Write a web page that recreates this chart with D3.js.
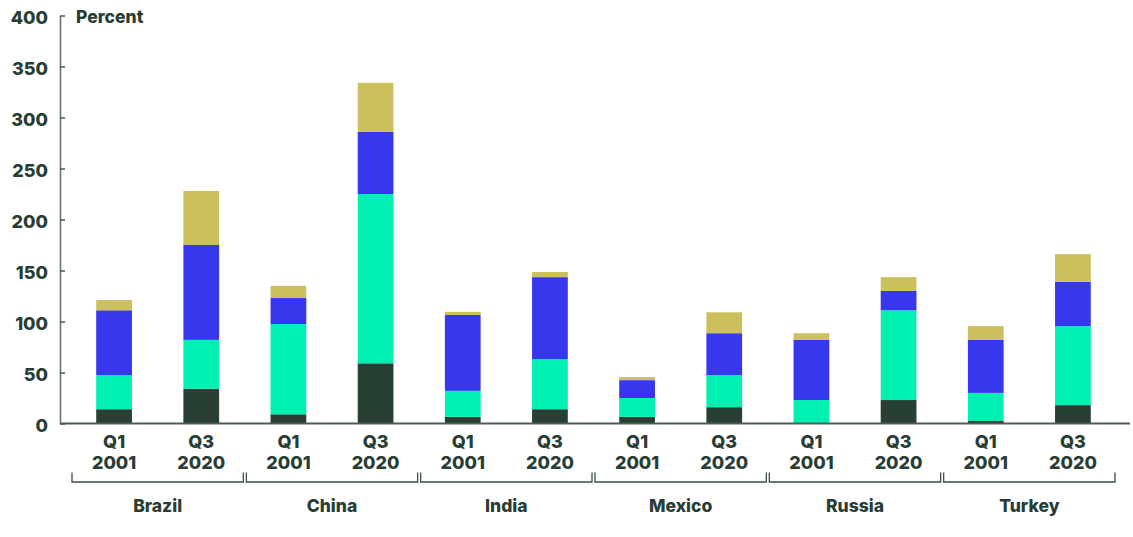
<!DOCTYPE html>
<html>
<head>
<meta charset="utf-8">
<script src="https://cdn.jsdelivr.net/npm/d3@7"></script>
<style>
  html, body { margin: 0; padding: 0; background: #ffffff; }
  svg { display: block; }
  text { font-family: Inter, "Liberation Sans", sans-serif; font-weight: 800; fill: #283d33; }
</style>
</head>
<body>
<div id="chart"></div>
<script>
// Debt by sector, percent of GDP, two snapshots per economy
const countries = ["Brazil", "China", "India", "Mexico", "Russia", "Turkey"];
const periods = [["Q1", "2001"], ["Q3", "2020"]];

// One value per bar, ordered Brazil Q1, Brazil Q3, China Q1, ...
const households  = [14, 34, 9, 59, 6.5, 14, 6.5, 16, 0, 23, 2.5, 18];
const corporates  = [33.5, 48, 88.5, 166, 25.5, 49, 18.5, 31.5, 23, 88, 27.5, 77.5];
const government  = [63.5, 93, 25.5, 61, 74.5, 80.5, 17.5, 41, 59, 19, 52, 43.5];
const financial   = [10, 53, 12, 48, 3, 5, 3, 20.5, 6.5, 13.5, 13.5, 27];

const yTicks = [0, 50, 100, 150, 200, 250, 300, 350, 400];
const yLabel = "Percent";

const seriesKeys = ["households", "corporates", "government", "financial"];
const seriesColors = ["#283f33", "#00f0b2", "#3737ee", "#cbbf5e"];

// Build rows for the stack layout
const rows = [];
countries.forEach((c, ci) => {
  periods.forEach((p, pi) => {
    const i = ci * periods.length + pi;
    rows.push({
      key: c + "|" + p.join(" "),
      country: c,
      period: p,
      households: households[i],
      corporates: corporates[i],
      government: government[i],
      financial: financial[i]
    });
  });
});

const width = 1133, height = 537;
const svg = d3.select("#chart").append("svg")
  .attr("width", width).attr("height", height);

const x = d3.scaleBand()
  .domain(rows.map(d => d.key))
  .range([70.5, 1116.5])
  .paddingInner(0.59)
  .paddingOuter(0.295);

const y = d3.scaleLinear().domain([0, 400]).range([423.5, 15.5]);

const stack = d3.stack().keys(seriesKeys);
const layers = stack(rows);

// Bars
svg.append("g").selectAll("g")
  .data(layers)
  .join("g")
  .attr("fill", (d, i) => seriesColors[i])
  .selectAll("rect")
  .data(d => d)
  .join("rect")
  .attr("x", d => x(d.data.key))
  .attr("width", x.bandwidth())
  .attr("y", d => y(d[1]))
  .attr("height", d => Math.max(0, y(d[0]) - y(d[1])));

// Y axis with inward ticks
const yAxis = svg.append("g")
  .attr("transform", "translate(60,0)")
  .call(d3.axisLeft(y).tickValues(yTicks).tickSizeInner(-5).tickSizeOuter(0).tickPadding(12));
yAxis.select(".domain").attr("stroke", "#66766f").attr("stroke-width", 1.6);
yAxis.selectAll(".tick line").attr("stroke", "#3d4f46").attr("stroke-width", 1.4);
yAxis.selectAll(".tick text")
  .attr("font-size", 18)
  .attr("dy", "0.45em")
  .style("font-family", "Inter, sans-serif")
  .style("font-weight", 800)
  .attr("fill", "#283d33");

svg.append("text")
  .attr("x", 76).attr("y", 22.5)
  .attr("font-size", 17.5)
  .text(yLabel);

// X axis: baseline plus two-line period labels
svg.append("line")
  .attr("x1", 60).attr("x2", 1130)
  .attr("y1", y(0)).attr("y2", y(0))
  .attr("stroke", "#4c5d55").attr("stroke-width", 1.8);

const xAxis = svg.append("g")
  .attr("transform", `translate(0,${y(0)})`)
  .call(d3.axisBottom(x).tickSize(0).tickFormat(() => ""));
xAxis.select(".domain").remove();
xAxis.selectAll(".tick text").remove();
xAxis.selectAll(".tick").each(function(k) {
  const row = rows.find(r => r.key === k);
  const t = d3.select(this).append("text")
    .attr("text-anchor", "middle")
    .attr("font-size", 18);
  t.append("tspan").attr("x", 0).attr("y", 24.5).text(row.period[0]);
  t.append("tspan").attr("x", 0).attr("y", 45.5).text(row.period[1]);
});

// Country brackets and names
const step = x.step();
const gap = x.paddingInner() * step / 2;
const groups = svg.append("g");
countries.forEach(c => {
  const keys = rows.filter(r => r.country === c).map(r => r.key);
  const x0 = x(keys[0]) - gap + 1.5;
  const x1 = x(keys[keys.length - 1]) + x.bandwidth() + gap - 1.5;
  groups.append("path")
    .attr("d", `M${x0},472.5V482H${x1}V472.5`)
    .attr("fill", "none")
    .attr("stroke", "#3d4f46")
    .attr("stroke-width", 1.3);
  groups.append("text")
    .attr("x", (x0 + x1) / 2)
    .attr("y", 512)
    .attr("text-anchor", "middle")
    .attr("font-size", 17.5)
    .text(c);
});
</script>
</body>
</html>
